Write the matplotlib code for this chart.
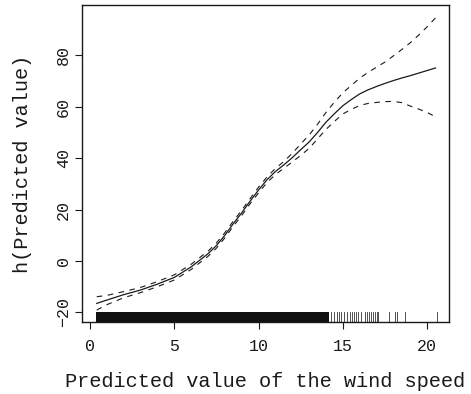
import numpy as np
import matplotlib
matplotlib.use("Agg")
import matplotlib.pyplot as plt

# smooth term estimate with its confidence band
speed = [0.4, 1, 2, 3, 4, 5, 6, 7, 7.5, 8, 8.5, 9, 9.5, 10, 10.5, 11, 11.5, 12,
         12.5, 13, 13.5, 14, 14.5, 15, 15.5, 16, 16.5, 17, 17.5, 18, 18.5, 19,
         19.5, 20, 20.5]
fit = [-16.5, -15.2, -13.1, -11.3, -9.0, -6.4, -2.3, 2.8, 6.0, 10.0, 14.5, 18.7,
       23.3, 27.6, 31.6, 34.8, 37.4, 40.2, 43.3, 46.3, 50.0, 54.0, 57.3, 60.4,
       62.8, 65.0, 66.6, 67.9, 69.1, 70.2, 71.2, 72.1, 73.1, 74.1, 75.1]
upper = [-13.9, -13.4, -11.9, -10.3, -8.0, -5.4, -1.3, 3.8, 7.0, 11.0, 15.5, 19.7,
         24.3, 28.7, 32.7, 36.0, 38.7, 41.9, 45.5, 49.0, 53.2, 57.8, 61.8, 65.4,
         68.3, 71.1, 73.4, 75.4, 77.4, 79.8, 82.3, 84.9, 87.9, 91.1, 94.6]
lower = [-19.1, -17.0, -14.3, -12.3, -10.0, -7.4, -3.3, 1.8, 5.0, 9.0, 13.5, 17.7,
         22.3, 26.5, 30.5, 33.6, 36.1, 38.5, 41.1, 43.8, 47.5, 51.2, 54.3, 57.2,
         59.0, 60.5, 61.3, 61.7, 62.0, 62.1, 61.6, 60.3, 59.1, 57.8, 56.1]

# rug: observations are so dense up to ~14.2 that they merge into a solid band
rug_dense_from = 0.33
rug_dense_to = 14.2
rug_sparse = [14.29, 14.48, 14.64, 14.78, 14.92, 15.08, 15.24, 15.40, 15.56,
              15.67, 15.79, 15.91, 16.07, 16.31, 16.43, 16.57, 16.67, 16.77,
              16.90, 17.02, 17.10, 17.76, 18.10, 18.21, 18.69, 20.58]

x_ticks = [0, 5, 10, 15, 20]
y_ticks = [-20, 0, 20, 40, 60, 80]

plt.rcParams['font.family'] = ['Liberation Mono', 'DejaVu Sans Mono']
ink = '#1a1a1a'

fig = plt.figure(figsize=(4.71, 3.94), dpi=100)
ax = fig.add_axes([82 / 471, 1 - 322 / 394, 367 / 471, 317 / 394])

ax.plot(speed, fit, color=ink, lw=0.9)
ax.plot(speed, upper, color=ink, lw=0.8, dashes=(5, 5))
ax.plot(speed, lower, color=ink, lw=0.8, dashes=(5, 5))

rug_h = 0.03
ax.axvspan(rug_dense_from, rug_dense_to, ymin=0, ymax=rug_h, color='#111111', lw=0)
for v in rug_sparse:
    ax.axvline(v, ymin=0, ymax=rug_h, color='#333333', lw=0.6)

ax.set_xlim(-0.475, 21.3)
ax.set_ylim(-23.74, 99.6)
ax.set_xticks(x_ticks)
ax.set_yticks(y_ticks)
ax.tick_params(direction='out', length=5, width=0.8, labelsize=12,
               color=ink, labelcolor=ink)
ax.tick_params(axis='x', pad=7)
ax.tick_params(axis='y', pad=3)
for lab in ax.get_yticklabels():
    lab.set_rotation(90)
    lab.set_va('center')
for s in ax.spines.values():
    s.set_linewidth(1.0)
    s.set_color(ink)

ax.set_xlabel('Predicted value of the wind speed', fontsize=14.6, labelpad=13,
              color=ink)
ax.set_ylabel('h(Predicted value)', fontsize=14.6, labelpad=17, color=ink)

fig.savefig('out.png', dpi=100)
